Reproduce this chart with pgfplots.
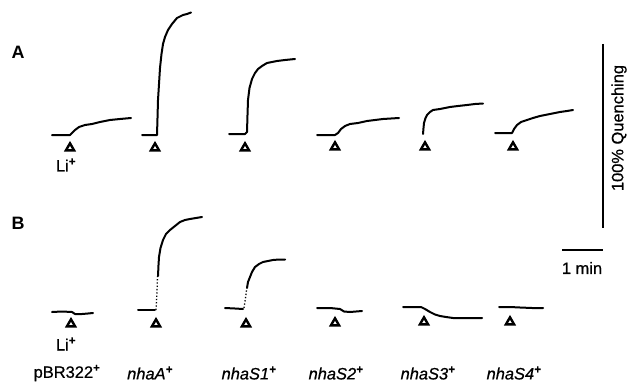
\documentclass[border=0pt]{standalone}
\usepackage{pgfplots}
\pgfplotsset{compat=1.18}
\usepackage{fontspec}
\setmainfont{Liberation Sans}
% slightly heavier face for the labels
\newfontfamily\heavy[FakeBold=0.7]{Liberation Sans}

\tikzset{
  trace/.style={black, line width=2bp, line join=round, line cap=round},
  lbl/.style={font=\fontsize{16.5}{18}\heavy, inner sep=0pt},
  plbl/.style={font=\fontsize{18}{20}\selectfont\bfseries, inner sep=0pt},
}
\newcommand{\plus}{\textsuperscript{\bfseries +}}

\begin{document}
\begin{tikzpicture}
\begin{axis}[
  width=629bp, height=389bp, scale only axis,
  xmin=0, xmax=629, ymin=0, ymax=389, y dir=reverse,
  hide axis, clip=false,
]
% invisible frame keeping the page size
\addplot[draw=none, forget plot] coordinates {(0,0) (629,389)};

% ---------- Panel A: Li+ induced quenching ----------
% pBR322
\addplot[trace] coordinates {(52,135) (62,135) (70,135) (72,133) (75,130) (79,127) (85,125) (92,124) (100,122) (110,120) (120,119) (131,118)};
% nhaA
\addplot[trace] coordinates {(142,135) (157,135) (157.5,118) (158,100) (159,84) (160,68) (161.5,54) (163,44) (165,37) (168,30) (172,24) (177,18) (183,15) (187,14) (191,12.5)};
% nhaS1
\addplot[trace] coordinates {(229,134) (245,134) (247,132) (247.5,115) (248,100) (249.5,88) (252,79) (255,73) (258,69) (262,66) (267,63) (272,62) (277,61) (285,60) (295,59)};
% nhaS2
\addplot[trace] coordinates {(317,135) (335,135) (338,133) (341,129) (345,126) (350,124) (358,123) (367,121) (375,120) (383,119) (391,118.5) (399,118)};
% nhaS3
\addplot[trace] coordinates {(423,134) (423.5,128) (424,123) (425.5,118) (427,115) (430,112) (433,110) (440,109) (450,107) (458,106) (467,105) (475,104) (483,103.5)};
% nhaS4
\addplot[trace] coordinates {(495,133) (505,133) (512,133) (514,129) (517,125) (521,122) (527,120) (533,118) (540,116) (550,114) (560,112) (567,111) (573,110)};

% ---------- Panel B ----------
% pBR322
\addplot[trace] coordinates {(52,312) (62,311.5) (72,312) (75,314) (82,314) (88,313.5) (93,313)};
% nhaA
\addplot[trace] coordinates {(138,310) (148,310) (155,310)};
\addplot[black, line width=1.3bp, dotted] coordinates {(156,310) (157,292) (157.5,276)};
\addplot[trace] coordinates {(158,276) (158.5,265) (159,257) (160.5,248) (163,240) (166,234) (170,230) (175,226) (180,222) (185,220) (190,219) (196,218) (202,217)};
% nhaS1
\addplot[trace] coordinates {(225,308) (235,308.5) (243,309)};
\addplot[black, line width=1.3bp, dotted] coordinates {(244,308) (245.5,298) (246.5,290)};
\addplot[trace] coordinates {(247,288) (248,282) (250,277) (252,272) (255,267) (259,264) (263,262) (268,261) (273,260) (279,259.5) (285,259.5)};
% nhaS2
\addplot[trace] coordinates {(317,308) (330,308) (340,309) (344,311.5) (350,312) (356,311.5) (362,311)};
% nhaS3
\addplot[trace] coordinates {(403,307) (412,307) (421,307) (425,309) (430,312) (435,314.5) (440,316) (446,317) (453,318) (465,318) (475,318) (482,318)};
% nhaS4
\addplot[trace] coordinates {(499,307) (510,307) (520,307.5) (532,308) (543,308)};

% Li+ addition points
\addplot[only marks, mark=triangle, mark size=4.7bp, mark options={line width=2.4bp, black, fill=white, line join=miter}]
  coordinates {(70,148) (155,148) (245,148) (335,147) (425,147) (513,147)
               (71,324) (156,324) (246,324) (335,323) (424,322) (510,322)};

% scale bars
\addplot[black, line width=2.3bp] coordinates {(603,44) (603,228)};
\addplot[black, line width=2.6bp] coordinates {(562,250) (603,250)};

% text
\node[plbl] at (axis cs:18,52) {A};
\node[plbl] at (axis cs:18,223) {B};
\node[lbl] at (axis cs:66,165) {Li\plus};
\node[lbl] at (axis cs:66,344) {Li\plus};
\node[lbl, rotate=90] at (axis cs:619,128) {100\% Quenching};
\node[lbl] at (axis cs:582,268) {1 min};
\node[lbl] at (axis cs:67,373) {pBR322\plus};
\node[lbl] at (axis cs:150,373) {\itshape nhaA\plus};
\node[lbl] at (axis cs:249,373) {\itshape nhaS1\plus};
\node[lbl] at (axis cs:336,373) {\itshape nhaS2\plus};
\node[lbl] at (axis cs:428,373) {\itshape nhaS3\plus};
\node[lbl] at (axis cs:514,373) {\itshape nhaS4\plus};
\end{axis}
\end{tikzpicture}
\end{document}
